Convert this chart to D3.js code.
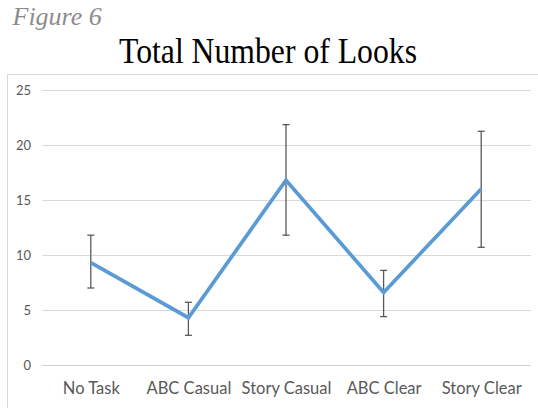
<!DOCTYPE html>
<html>
<head>
<meta charset="utf-8">
<script src="https://cdn.jsdelivr.net/npm/d3@7"></script>
<style>
  html, body { margin: 0; padding: 0; background: #fff; }
  svg { display: block; }
</style>
</head>
<body>
<svg id="chart" width="538" height="408"></svg>
<script>
const categories = ["No Task", "ABC Casual", "Story Casual", "ABC Clear", "Story Clear"];
const means = [9.3, 4.3, 16.8, 6.6, 16.0];
const errLow = [7.0, 2.7, 11.8, 4.4, 10.7];
const errHigh = [11.8, 5.7, 21.85, 8.6, 21.25];
const yTicks = [0, 5, 10, 15, 20, 25];
const figureLabel = "Figure 6";
const chartTitle = "Total Number of Looks";

const svg = d3.select("#chart");
const W = 538, H = 408;

svg.append("rect").attr("x", 0).attr("y", 0).attr("width", W).attr("height", H).attr("fill", "#fff");

// figure label
svg.append("text")
  .attr("x", 12.5).attr("y", 25)
  .attr("font-family", "Liberation Serif, Times New Roman, serif")
  .attr("font-style", "italic")
  .attr("font-size", 26)
  .attr("fill", "#8c8c8c")
  .text(figureLabel);

// title
svg.append("text")
  .attr("transform", "translate(268,62.7) scale(1,1.15)")
  .attr("text-anchor", "middle")
  .attr("font-family", "Liberation Serif, Times New Roman, serif")
  .attr("font-size", 31.7)
  .attr("fill", "#000")
  .text(chartTitle);

// chart area border
svg.append("rect")
  .attr("x", 7.5).attr("y", 74.5)
  .attr("width", W + 10).attr("height", H)
  .attr("fill", "none")
  .attr("stroke", "#d9d9d9")
  .attr("stroke-width", 1);

const x = d3.scalePoint().domain(categories).range([42, 530]).padding(0.5);
const y = d3.scaleLinear().domain([0, 25]).range([365, 90]);

// gridlines
const grid = svg.append("g");
grid.selectAll("line").data(yTicks).join("line")
  .attr("x1", 42).attr("x2", 531)
  .attr("y1", d => Math.round(y(d)) + 0.5)
  .attr("y2", d => Math.round(y(d)) + 0.5)
  .attr("stroke", d => d === 0 ? "#d0d0d0" : "#d9d9d9")
  .attr("stroke-width", 1);

// y axis labels
const yAxis = d3.axisLeft(y).tickValues(yTicks).tickSize(0).tickPadding(0);
const yg = svg.append("g").attr("transform", "translate(31,0)").call(yAxis);
yg.select(".domain").remove();
yg.selectAll("text")
  .attr("font-family", "Lato, Open Sans, sans-serif")
  .attr("font-size", 13)
  .attr("fill", "#595959");

// x axis labels
const xAxis = d3.axisBottom(x).tickSize(0).tickPadding(0);
const xg = svg.append("g").attr("transform", "translate(0,394)").call(xAxis);
xg.select(".domain").remove();
xg.selectAll("text")
  .attr("dy", 0)
  .attr("font-family", "Lato, Open Sans, sans-serif")
  .attr("font-size", 16.5)
  .attr("fill", "#595959");

// error bars
const eb = svg.append("g").attr("stroke", "#595959").attr("stroke-width", 1.3).attr("fill", "none");
categories.forEach((c, i) => {
  const cx = x(c);
  eb.append("line").attr("x1", cx).attr("x2", cx).attr("y1", y(errLow[i])).attr("y2", y(errHigh[i]));
  eb.append("line").attr("x1", cx - 3.5).attr("x2", cx + 3.5).attr("y1", y(errLow[i])).attr("y2", y(errLow[i]));
  eb.append("line").attr("x1", cx - 3.5).attr("x2", cx + 3.5).attr("y1", y(errHigh[i])).attr("y2", y(errHigh[i]));
});

// line
const line = d3.line().x((d, i) => x(categories[i])).y(d => y(d));
svg.append("path")
  .datum(means)
  .attr("d", line)
  .attr("fill", "none")
  .attr("stroke", "#5b9bd5")
  .attr("stroke-width", 3.7)
  .attr("stroke-linejoin", "miter")
  .attr("stroke-linecap", "butt");
</script>
</body>
</html>
